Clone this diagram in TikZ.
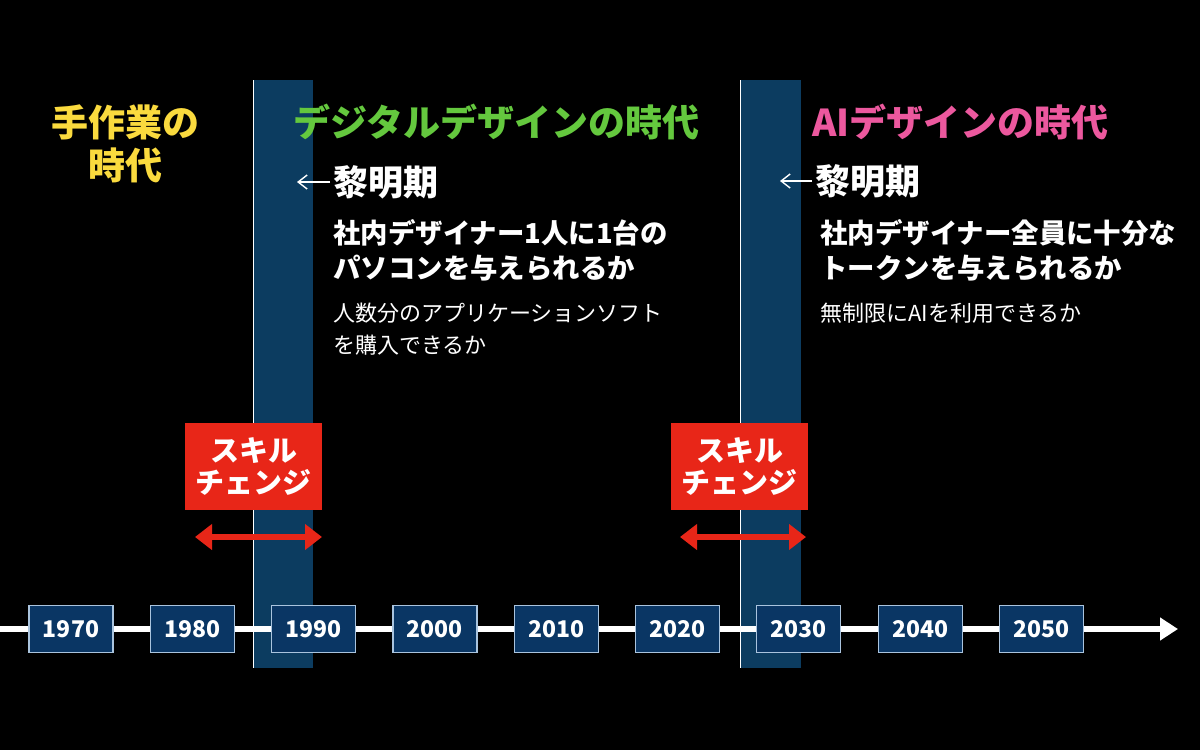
\documentclass[tikz,border=0pt]{standalone}
\usepackage{fontspec}
\setmainfont{Noto Sans CJK JP}
\usepackage{tikz}
\usetikzlibrary{arrows.meta,backgrounds}

\definecolor{bandblue}{RGB}{12,60,96}
\definecolor{yearblue}{RGB}{10,54,100}
\definecolor{yearedge}{RGB}{170,196,222}
\definecolor{skillred}{RGB}{232,38,24}
\definecolor{eraYellow}{RGB}{250,218,62}
\definecolor{eraGreen}{RGB}{100,200,62}
\definecolor{eraPink}{RGB}{236,88,158}

\begin{document}
\begin{tikzpicture}[x=0.5pt,y=0.5pt,yscale=-1,xscale=1,
  yearbox/.style={draw=yearedge,fill=yearblue,line width=0.6pt,minimum width=42pt,minimum height=23.5pt,inner sep=0pt,text=white,font=\bfseries\fontsize{11.5}{12}\selectfont},
  skillbox/.style={fill=skillred,minimum width=68.5pt,minimum height=43.5pt,inner sep=0pt,text=white,align=center,font=\bfseries\fontsize{14.5}{16}\selectfont},
  eratitle/.style={inner sep=0pt,font=\bfseries\fontsize{18.5}{21.5}\selectfont},
  dawntext/.style={anchor=west,inner sep=0pt,text=white,font=\bfseries\fontsize{17.5}{18}\selectfont},
  questext/.style={anchor=west,inner sep=0pt,text=white,align=left,font=\bfseries\fontsize{13.7}{17.5}\selectfont},
  subtext/.style={anchor=west,inner sep=0pt,text=white,align=left,font=\fontsize{11}{16}\selectfont},
  redarrow/.style={skillred,line width=3.2pt,{Triangle[length=8.5pt,width=12.5pt]}-{Triangle[length=8.5pt,width=12.5pt]}},
  backarrow/.style={white,line width=0.7pt,-{Straight Barb[length=4.5pt,width=7pt]}}]

%Background
\fill[black] (0,0) rectangle (1200,750);
\useasboundingbox (0,0) rectangle (1200,750);

%Shape: Rectangle (band 1990)
\fill[bandblue] (253,80) rectangle (313,668);
\draw[white,line width=0.8pt] (253.5,80) -- (253.5,668);
%Shape: Rectangle (band 2030)
\fill[bandblue] (740,80) rectangle (801,668);
\draw[white,line width=0.8pt] (740.5,80) -- (740.5,668);

%Timeline
\coordinate (tstart) at (0,629);
\coordinate (tend) at (1178,629);
\draw[white,line width=3pt,-{Triangle[length=9pt,width=11pt]}] (tstart) -- (tend);

%Year boxes
\foreach \yr [count=\i from 0] in {1970,1980,1990,2000,2010,2020,2030,2040,2050}
  \node[yearbox] (y\yr) at (71+121.3*\i,629) {\yr};

% Text Node
\node[eratitle,text=eraYellow,align=center] (manual) at (125,143.5) {手作業の\\時代};
% Text Node
\node[eratitle,text=eraGreen,anchor=west] (digital) at (293,122) {デジタルデザインの時代};
% Text Node
\node[eratitle,text=eraPink,anchor=west] (aiera) at (812,122) {AIデザインの時代};

% Text Node
\node[dawntext] (dawnA) at (333,182) {黎明期};
\coordinate (tipA) at (297,182);
\draw[backarrow] ([xshift=-1.5pt]dawnA.west) -- (tipA);
% Text Node
\node[dawntext] (dawnB) at (815,181) {黎明期};
\coordinate (tipB) at (780,181);
\draw[backarrow] ([xshift=-1.5pt]dawnB.west) -- (tipB);

% Text Node
\node[questext] (questA) at (333,250.5) {社内デザイナー1人に1台の\\パソコンを与えられるか};
% Text Node
\node[questext] (questB) at (820,250.5) {社内デザイナー全員に十分な\\トークンを与えられるか};
% Text Node
\node[subtext] (subA) at (333,329) {人数分のアプリケーションソフト\\を購入できるか};
% Text Node
\node[subtext] (subB) at (820,313) {無制限にAIを利用できるか};

%Skill change
\node[skillbox] (skillA) at (253.5,466.5) {スキル\\チェンジ};
\node[skillbox] (skillB) at (739.5,466.5) {スキル\\チェンジ};
\coordinate (swA) at (195,537);
\coordinate (seA) at (322,537);
\coordinate (swB) at (680,537);
\coordinate (seB) at (806,537);
\draw[redarrow] (swA) -- (seA);
\draw[redarrow] (swB) -- (seB);

\end{tikzpicture}
\end{document}
